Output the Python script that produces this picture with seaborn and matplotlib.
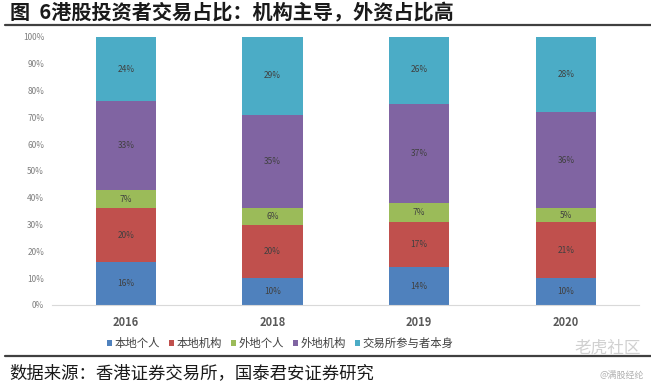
import numpy as np
import pandas as pd
import seaborn as sns
import matplotlib.pyplot as plt
from matplotlib.lines import Line2D
from matplotlib.patches import Patch

sns.set_style('white')
plt.rcParams['font.family'] = ['Noto Sans CJK SC', 'DejaVu Sans']

# 数据
years = ['2016', '2018', '2019', '2020']
series = ['本地个人', '本地机构', '外地个人', '外地机构', '交易所参与者本身']
bdgr = [16, 10, 14, 10]      # 本地个人
bdjg = [20, 20, 17, 21]      # 本地机构
wdgr = [7, 6, 7, 5]          # 外地个人
wdjg = [33, 35, 37, 36]      # 外地机构
jys = [24, 29, 26, 28]       # 交易所参与者本身
colors = ['#4F81BD', '#C0504D', '#9BBB59', '#8064A2', '#4BACC6']

vals = np.array([bdgr, bdjg, wdgr, wdjg, jys], dtype=float)
cum = vals.cumsum(axis=0)

fig = plt.figure(figsize=(6.51, 3.89), dpi=100)
ax = fig.add_axes([0.0806, 0.216, 0.9014, 0.689])

# 从上往下叠画累计值
for i in range(len(series) - 1, -1, -1):
    df = pd.DataFrame({'year': years, 'v': cum[i]})
    sns.barplot(data=df, x='year', y='v', color=colors[i], width=0.41,
                saturation=1, ax=ax, errorbar=None, linewidth=0)

# 数值标签
for i in range(len(series)):
    for j in range(len(years)):
        mid = cum[i, j] - vals[i, j] / 2
        ax.text(j, mid, f'{int(vals[i, j])}%', ha='center', va='center',
                fontsize=6, color='#404040')

ax.set_ylim(0, 100)
ax.set_xlim(-0.5, 3.5)
ax.set_yticks(range(0, 101, 10))
ax.set_yticklabels([f'{t}%' for t in range(0, 101, 10)], fontsize=6, color='#7f7f7f')
ax.set_xticks(range(4))
ax.set_xticklabels(years, fontsize=8, fontweight='bold', color='#595959')
ax.tick_params(axis='both', length=0, pad=8)
ax.tick_params(axis='y', pad=6)
ax.set_xlabel('')
ax.set_ylabel('')
for s in ['top', 'right', 'left']:
    ax.spines[s].set_visible(False)
ax.spines['bottom'].set_color('#d9d9d9')
ax.spines['bottom'].set_linewidth(0.8)

# 图例
handles = [Patch(facecolor=c, edgecolor='none') for c in colors]
fig.legend(handles, series, loc='center', bbox_to_anchor=(0.43, 0.118), ncol=5,
           frameon=False, fontsize=8.2, handlelength=0.45, handleheight=0.45,
           handletextpad=0.2, columnspacing=0.8, labelcolor='#404040')

# 标题和来源
fig.text(0.015, 0.967, '图  6港股投资者交易占比：机构主导，外资占比高',
         fontsize=14.5, fontweight='bold', va='center', color='#1a1a1a')
fig.add_artist(Line2D([0.008, 1.0], [0.937, 0.937], color='#404040', lw=1.6))
fig.add_artist(Line2D([0.008, 1.0], [0.085, 0.085], color='#404040', lw=1.6))
fig.text(0.015, 0.04, '数据来源：香港证券交易所，国泰君安证券研究',
         fontsize=12.5, va='center', color='#1a1a1a')

# 水印
fig.text(0.985, 0.105, '老虎社区', fontsize=12, ha='right', va='center', color='#d0d0d0')
fig.text(0.99, 0.035, '@满股经纶', fontsize=6.5, ha='right', va='center', color='#b0b0b0')

fig.savefig('out.png', dpi=100)
